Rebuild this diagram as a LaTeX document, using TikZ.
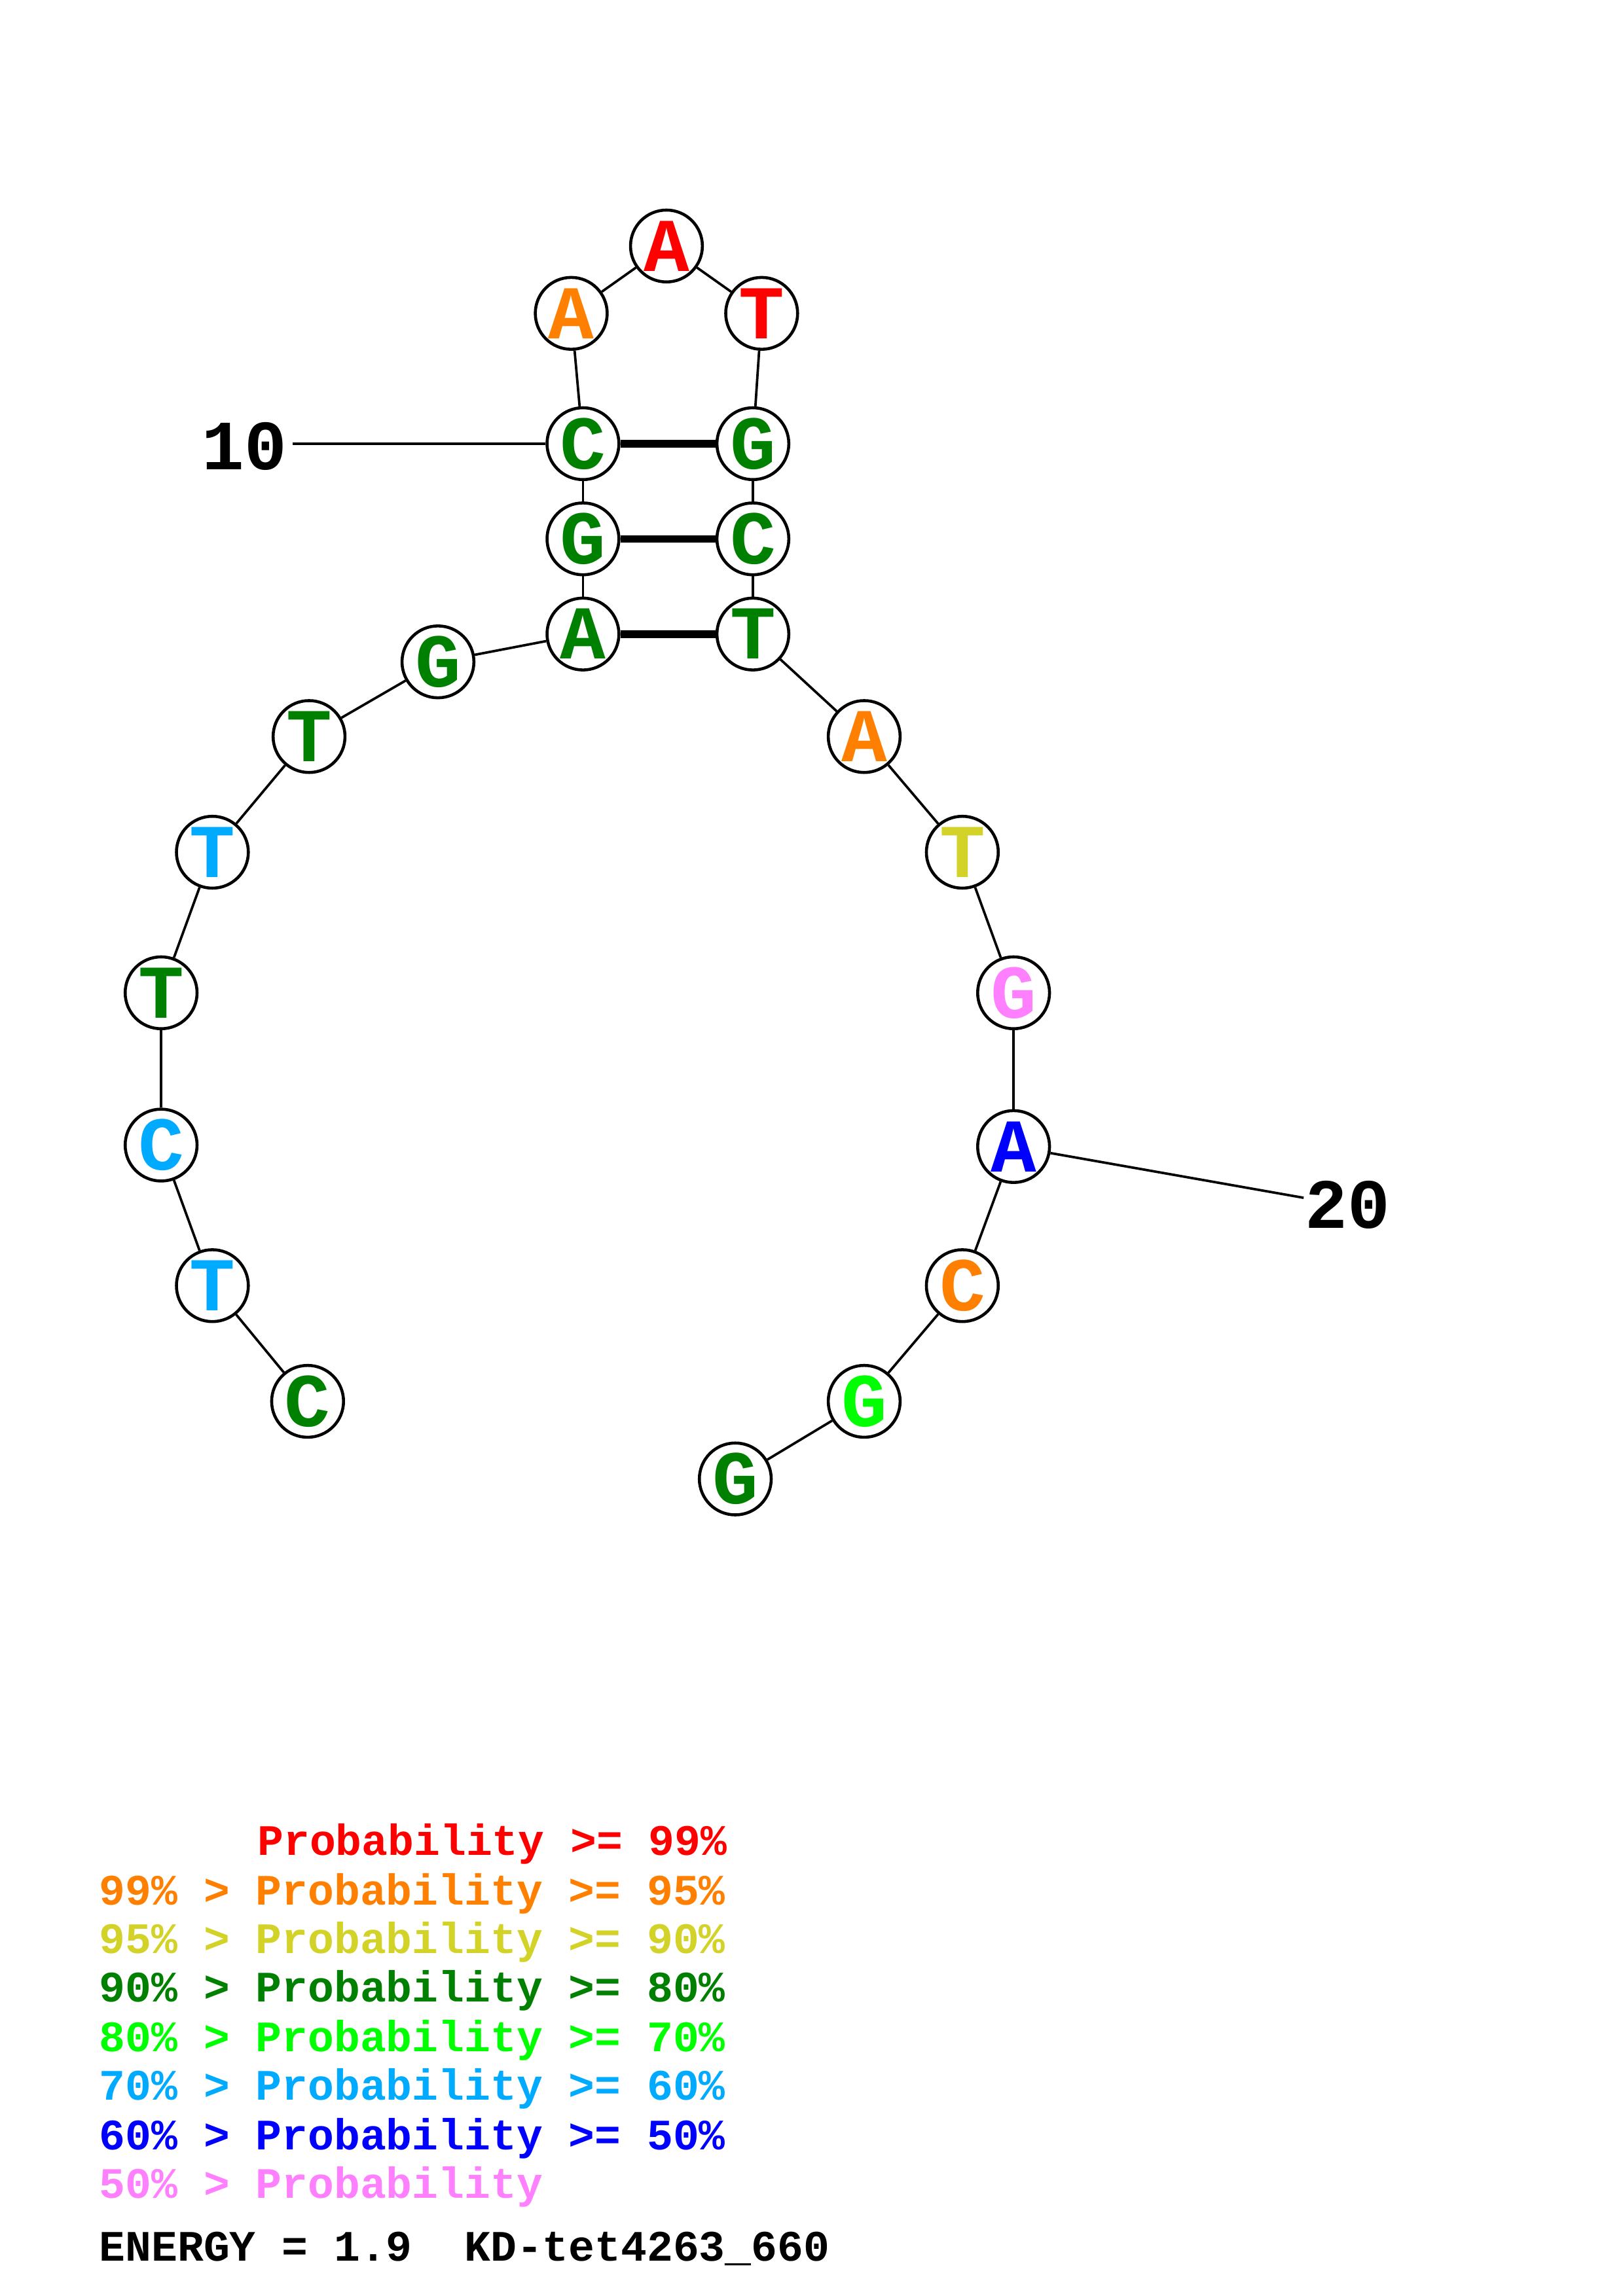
\documentclass[tikz,border=0pt]{standalone}
\usepackage{fontspec}
\setmainfont{Liberation Mono}
\definecolor{prA}{RGB}{255,0,0}
\definecolor{prB}{RGB}{255,128,0}
\definecolor{prC}{RGB}{210,210,40}
\definecolor{prD}{RGB}{0,128,0}
\definecolor{prE}{RGB}{0,255,0}
\definecolor{prF}{RGB}{0,170,255}
\definecolor{prG}{RGB}{0,0,255}
\definecolor{prH}{RGB}{255,128,255}
\begin{document}
\begin{tikzpicture}[x=0.018953cm, y=-0.018953cm, line width=0.9pt,
    base/.style={draw, circle, fill=white, minimum size=0.93cm, inner sep=0pt,
      line width=1.1pt, font=\fontsize{28}{28}\selectfont\bfseries},
    pair/.style={line width=2.8pt},
    num/.style={font=\fontsize{26}{26}\selectfont\bfseries},
    key/.style={anchor=base west, inner sep=0pt, font=\fontsize{16}{16}\selectfont\bfseries}]
  \useasboundingbox (0,0) rectangle (1108,1568);
  % bases
  \foreach \n/\x/\y/\b/\c in {1/210/957/C/prD, 2/145/878/T/prF, 3/110/782/C/prF,
      4/110/678/T/prD, 5/145/582/T/prF, 6/211/503/T/prD, 7/299/452/G/prD,
      8/398/433/A/prD, 9/398/368/G/prD, 10/398/303/C/prD, 11/390/214/A/prB,
      12/455/168/A/prA, 13/520/214/T/prA, 14/514/303/G/prD, 15/514/368/C/prD,
      16/514/433/T/prD, 17/590/503/A/prB, 18/657/582/T/prC, 19/692/678/G/prH,
      20/692/783/A/prG, 21/657/878/C/prB, 22/590/957/G/prE, 23/502/1010/G/prD}
    \node[base, text=\c] (n\n) at (\x,\y) {\b};
  % backbone
  \foreach \i [count=\j from 2] in {1,...,22}
    \draw (n\i) -- (n\j);
  % pairs
  \draw[pair] (n10) -- (n14);
  \draw[pair] (n9) -- (n15);
  \draw[pair] (n8) -- (n16);
  % numbering
  \node[num] (l10) at (167,305) {10};
  \coordinate (t10) at (200,303);
  \draw (n10) -- (t10);
  \node[num] (l20) at (920,823) {20};
  \coordinate (t20) at (890,818);
  \draw (n20) -- (t20);
  % legend
  \node[key, text=prA] (k1) at (175,1267) {Probability >= 99\%};
  \node[key, text=prB] (k2) at (67,1301) {99\% > Probability >= 95\%};
  \node[key, text=prC] (k3) at (67,1334) {95\% > Probability >= 90\%};
  \node[key, text=prD] (k4) at (67,1367) {90\% > Probability >= 80\%};
  \node[key, text=prE] (k5) at (67,1401) {80\% > Probability >= 70\%};
  \node[key, text=prF] (k6) at (67,1434) {70\% > Probability >= 60\%};
  \node[key, text=prG] (k7) at (67,1468) {60\% > Probability >= 50\%};
  \node[key, text=prH] (k8) at (67,1501) {50\% > Probability};
  \node[key] (energy) at (67,1544) {ENERGY = 1.9\ \ KD-tet4263\_660};
\end{tikzpicture}
\end{document}
